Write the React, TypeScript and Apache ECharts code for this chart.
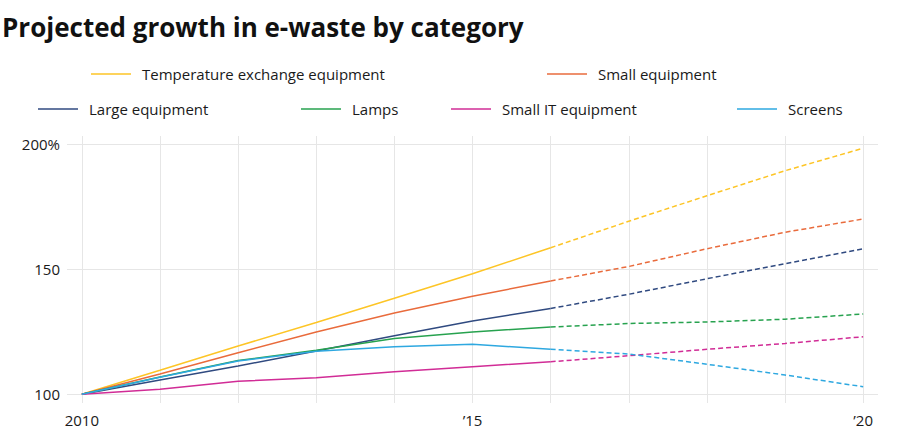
import React, { useEffect, useRef } from 'react';
import * as echarts from 'echarts';

const actualYears = [2010, 2011, 2012, 2013, 2014, 2015, 2016];
const projectedYears = [2016, 2017, 2018, 2019, 2020];
const gridYears = [2010, 2011, 2012, 2013, 2014, 2015, 2016, 2017, 2018, 2019, 2020];
const labelYears = [2010, 2015, 2020];
const yTicks = [100, 150, 200];

const categories = [
  'Temperature exchange equipment',
  'Small equipment',
  'Large equipment',
  'Lamps',
  'Small IT equipment',
  'Screens',
];
const colors = ['#fdc526', '#e96b3c', '#304a80', '#27a24f', '#d12c96', '#2ea8e0'];

const temperatureActual = [100, 109.6, 119.3, 128.7, 138.4, 148.2, 158.6];
const temperatureProjected = [158.6, 169.2, 179.4, 189.4, 198.4];
const smallActual = [100, 108.1, 116.6, 124.9, 132.5, 139.2, 145.3];
const smallProjected = [145.3, 151.1, 158.2, 164.8, 170.1];
const largeActual = [100, 105.7, 111.3, 117.3, 123.4, 129.3, 134.3];
const largeProjected = [134.3, 140.0, 146.2, 152.2, 158.2];
const lampsActual = [100, 106.9, 113.5, 117.6, 122.3, 124.9, 126.9];
const lampsProjected = [126.9, 128.3, 128.9, 130.0, 132.1];
const smallITActual = [100, 102.0, 105.2, 106.6, 109.0, 111.0, 113.0];
const smallITProjected = [113.0, 115.4, 118.0, 120.3, 123.0];
const screensActual = [100, 106.8, 113.3, 117.2, 119.0, 120.0, 118.0];
const screensProjected = [118.0, 116.1, 112.0, 107.7, 103.0];

const actualSets = [temperatureActual, smallActual, largeActual, lampsActual, smallITActual, screensActual];
const projectedSets = [temperatureProjected, smallProjected, largeProjected, lampsProjected, smallITProjected, screensProjected];

// legend placement: [left, top]
const legendPos: [number, number][] = [
  [91, 64],
  [547, 64],
  [38, 99],
  [301, 99],
  [451, 99],
  [737, 99],
];

const FONT = "'Open Sans', 'Noto Sans', sans-serif";

export default function App() {
  const ref = useRef<HTMLDivElement>(null);
  useEffect(() => {
    if (!ref.current) return;
    const chart = echarts.init(ref.current, undefined, { renderer: 'svg' });
    const series: any[] = [];
    categories.forEach((name, i) => {
      series.push({
        name,
        type: 'line',
        data: actualYears.map((y, k) => [y, actualSets[i][k]]),
        showSymbol: false,
        symbol: 'none',
        lineStyle: { color: colors[i], width: 1.5 },
        itemStyle: { color: colors[i] },
      });
    });
    categories.forEach((name, i) => {
      series.push({
        name,
        type: 'line',
        data: projectedYears.map((y, k) => [y, projectedSets[i][k]]),
        showSymbol: false,
        symbol: 'none',
        lineStyle: { color: colors[i], width: 1.5, type: [5, 3] },
        itemStyle: { color: colors[i] },
      });
    });
    const legends = categories.map((name, i) => ({
      data: [name],
      left: legendPos[i][0],
      top: legendPos[i][1],
      padding: 0,
      icon: 'rect',
      itemWidth: 40,
      itemHeight: 1.5,
      selectedMode: false,
      textStyle: {
        fontFamily: FONT,
        fontSize: 15,
        color: '#1a1a1a',
        lineHeight: 20,
        padding: [0, 0, 0, 6],
      },
    }));
    chart.setOption({
      animation: false,
      backgroundColor: '#ffffff',
      title: {
        text: 'Projected growth in e-waste by category',
        left: 2,
        top: 14,
        padding: 0,
        textStyle: {
          fontFamily: FONT,
          fontWeight: 'bold',
          fontSize: 26,
          color: '#111111',
        },
      },
      legend: legends,
      grid: { left: 67, right: 22, top: 136, bottom: 28, containLabel: false },
      xAxis: {
        type: 'value',
        min: 2009.81,
        max: 2020.19,
        axisLine: { show: false },
        axisTick: { show: false, customValues: gridYears },
        splitLine: { show: true, lineStyle: { color: '#e6e6e6', width: 1 } },
        axisLabel: {
          customValues: labelYears,
          margin: 9,
          fontFamily: FONT,
          fontSize: 15,
          color: '#1a1a1a',
          formatter: (v: number) => (v === 2010 ? '2010' : '\u2019' + String(v).slice(2)),
        },
      },
      yAxis: {
        type: 'value',
        min: 96.5,
        max: 203.3,
        axisLine: { show: false },
        axisTick: { show: false, customValues: yTicks },
        splitLine: { show: true, lineStyle: { color: '#e6e6e6', width: 1 } },
        axisLabel: {
          customValues: yTicks,
          margin: 7,
          fontFamily: FONT,
          fontSize: 15,
          color: '#1a1a1a',
          formatter: (v: number) => (v === 200 ? '200%' : String(v)),
        },
      },
      series,
    });
    return () => chart.dispose();
  }, []);
  return (
    <div
      ref={ref}
      style={{ position: 'fixed', left: 0, top: 0, width: 900, height: 431, background: '#fff' }}
    />
  );
}
